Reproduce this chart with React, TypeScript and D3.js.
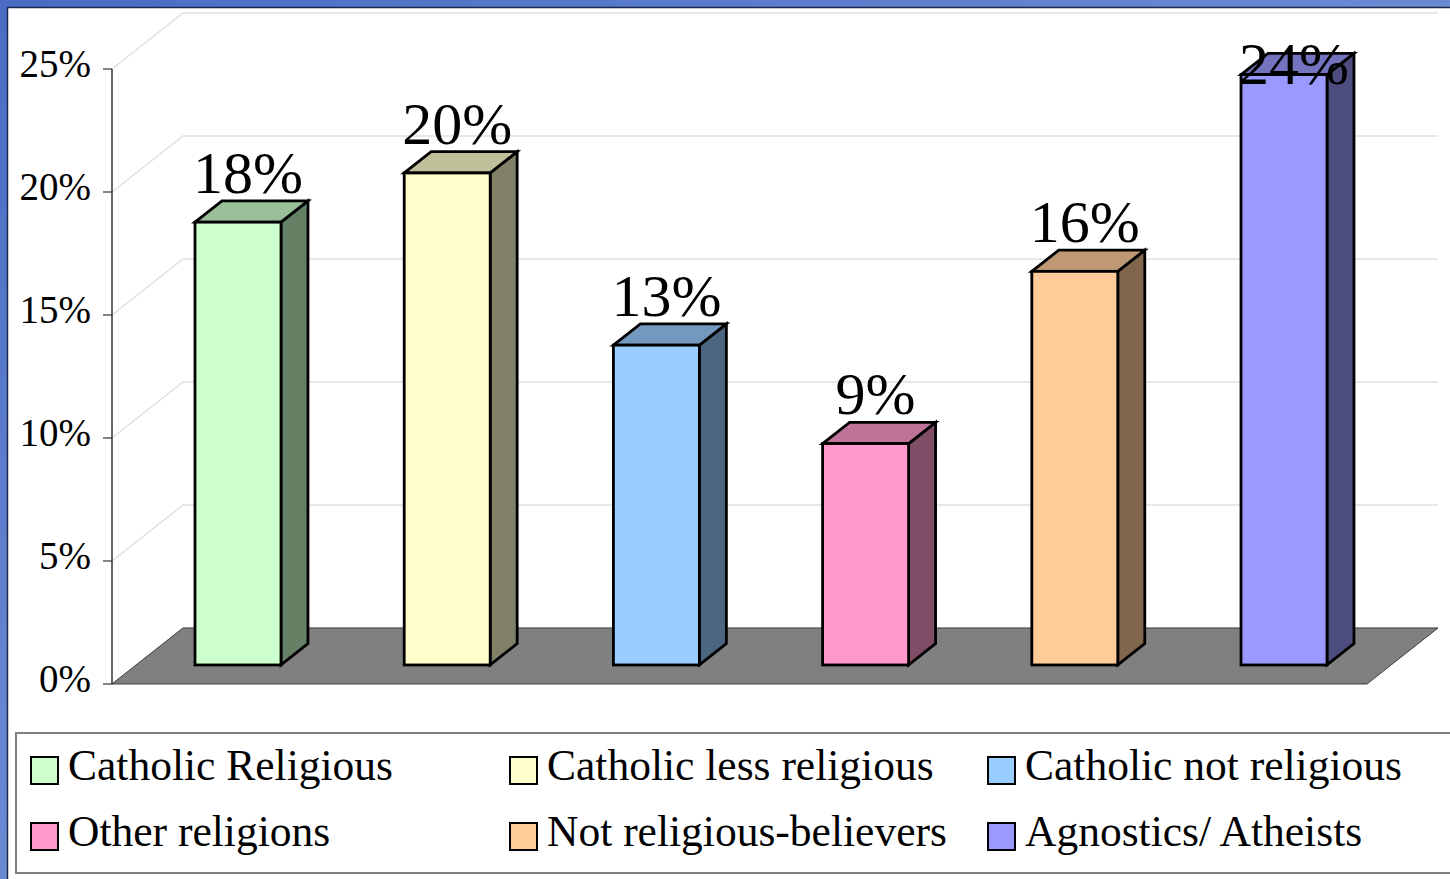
import React from "react";
import * as d3 from "d3";

const categories = [
  "Catholic Religious",
  "Catholic less religious",
  "Catholic not religious",
  "Other religions",
  "Not religious-believers",
  "Agnostics/ Atheists",
];
const values = [18, 20, 13, 9, 16, 24];
const colors = ["#ccffcc", "#ffffcc", "#99ccff", "#ff99cc", "#ffcc99", "#9999ff"];
const yTicks = [0, 5, 10, 15, 20, 25];

const W = 1450;
const H = 879;
const FONT = "'Liberation Serif', 'Times New Roman', serif";

export default function App() {
  const x0 = 112;
  const x1 = 1367;
  const y = d3.scaleLinear().domain([0, 25]).range([684, 69]);
  const band = d3
    .scaleBand<string>()
    .domain(categories)
    .range([x0, x1])
    .paddingInner(0.589)
    .paddingOuter(0.294);
  const D = { x: 71, y: -56 };
  const f1 = 0.34;
  const f2 = 0.72;
  const bo = { x: 21.5, y: D.y * f1 };
  const bd = { x: D.x * (f2 - f1), y: D.y * (f2 - f1) };
  const bw = band.bandwidth();
  const shade = (c: string, k: number) => {
    const rgb = d3.rgb(c);
    return d3.rgb(rgb.r * k, rgb.g * k, rgb.b * k).formatHex();
  };
  const pts = (arr: number[][]) => arr.map((p) => p.join(",")).join(" ");

  const legendCols = [31, 510, 988];
  const legendRows = [757, 823];

  return (
    <div style={{ position: "absolute", left: 0, top: 0 }}>
      <svg width={W} height={H} style={{ display: "block" }}>
        <defs>
          <linearGradient id="frame" x1="0" y1="0" x2="1" y2="1">
            <stop offset="0%" stopColor="#4a6cc4" />
            <stop offset="100%" stopColor="#8aaae0" />
          </linearGradient>
        </defs>
        <rect x={0} y={0} width={W} height={H} fill="url(#frame)" />
        <rect x={8} y={8} width={W} height={H} fill="#ffffff" />
        <line x1={7} y1={7.5} x2={W} y2={7.5} stroke="#1c2850" strokeWidth={1.5} />
        <line x1={7.5} y1={7} x2={7.5} y2={H} stroke="#1c2850" strokeWidth={1.5} />

        {/* back wall gridlines */}
        {yTicks.map((t) => (
          <polyline
            key={"g" + t}
            points={pts([
              [x0, y(t)],
              [x0 + D.x, y(t) + D.y],
              [x1 + D.x, y(t) + D.y],
            ])}
            fill="none"
            stroke="#e0e0e0"
            strokeWidth={1.5}
          />
        ))}

        {/* floor */}
        <polygon
          points={pts([
            [x0, y(0)],
            [x1, y(0)],
            [x1 + D.x, y(0) + D.y],
            [x0 + D.x, y(0) + D.y],
          ])}
          fill="#808080"
          stroke="#404040"
          strokeWidth={1}
        />

        {/* y axis */}
        <line x1={x0} y1={y(25)} x2={x0} y2={y(0)} stroke="#000" strokeWidth={1.2} />
        {yTicks.map((t) => (
          <g key={"t" + t}>
            <line x1={x0 - 9} y1={y(t)} x2={x0} y2={y(t)} stroke="#333" strokeWidth={1.2} />
            <text
              x={91}
              y={y(t) + 8}
              textAnchor="end"
              fontFamily={FONT}
              fontSize={39}
              fill="#000"
            >
              {t + "%"}
            </text>
          </g>
        ))}

        {/* bars */}
        {categories.map((c, i) => {
          const bx = (band(c) as number) + bo.x;
          const yb = y(0) + bo.y;
          const yt = y(values[i]) + bo.y;
          const col = colors[i];
          return (
            <g key={"b" + i} stroke="#000" strokeWidth={2.8} strokeLinejoin="miter">
              <polygon
                points={pts([
                  [bx + bw, yb],
                  [bx + bw + bd.x, yb + bd.y],
                  [bx + bw + bd.x, yt + bd.y],
                  [bx + bw, yt],
                ])}
                fill={shade(col, 0.5)}
              />
              <polygon
                points={pts([
                  [bx, yt],
                  [bx + bd.x, yt + bd.y],
                  [bx + bw + bd.x, yt + bd.y],
                  [bx + bw, yt],
                ])}
                fill={shade(col, 0.75)}
              />
              <rect x={bx} y={yt} width={bw} height={yb - yt} fill={col} />
            </g>
          );
        })}

        {/* data labels */}
        {categories.map((c, i) => {
          const bx = (band(c) as number) + bo.x;
          const yt = y(values[i]) + bo.y + bd.y;
          const base = Math.max(yt - 8, 84);
          return (
            <text
              key={"l" + i}
              x={bx + bw / 2 + 10}
              y={base}
              textAnchor="middle"
              fontFamily={FONT}
              fontSize={60}
              fill="#000"
            >
              {values[i] + "%"}
            </text>
          );
        })}

        {/* legend */}
        <rect x={16} y={733} width={W} height={140} fill="#fff" stroke="#808080" strokeWidth={2} />
        {categories.map((c, i) => {
          const lx = legendCols[i % 3];
          const ly = legendRows[Math.floor(i / 3)];
          return (
            <g key={"lg" + i}>
              <rect x={lx} y={ly} width={27} height={27} fill={colors[i]} stroke="#000" strokeWidth={2} />
              <text x={lx + 37} y={ly + 23} fontFamily={FONT} fontSize={43.5} fill="#000">
                {c}
              </text>
            </g>
          );
        })}
      </svg>
    </div>
  );
}
